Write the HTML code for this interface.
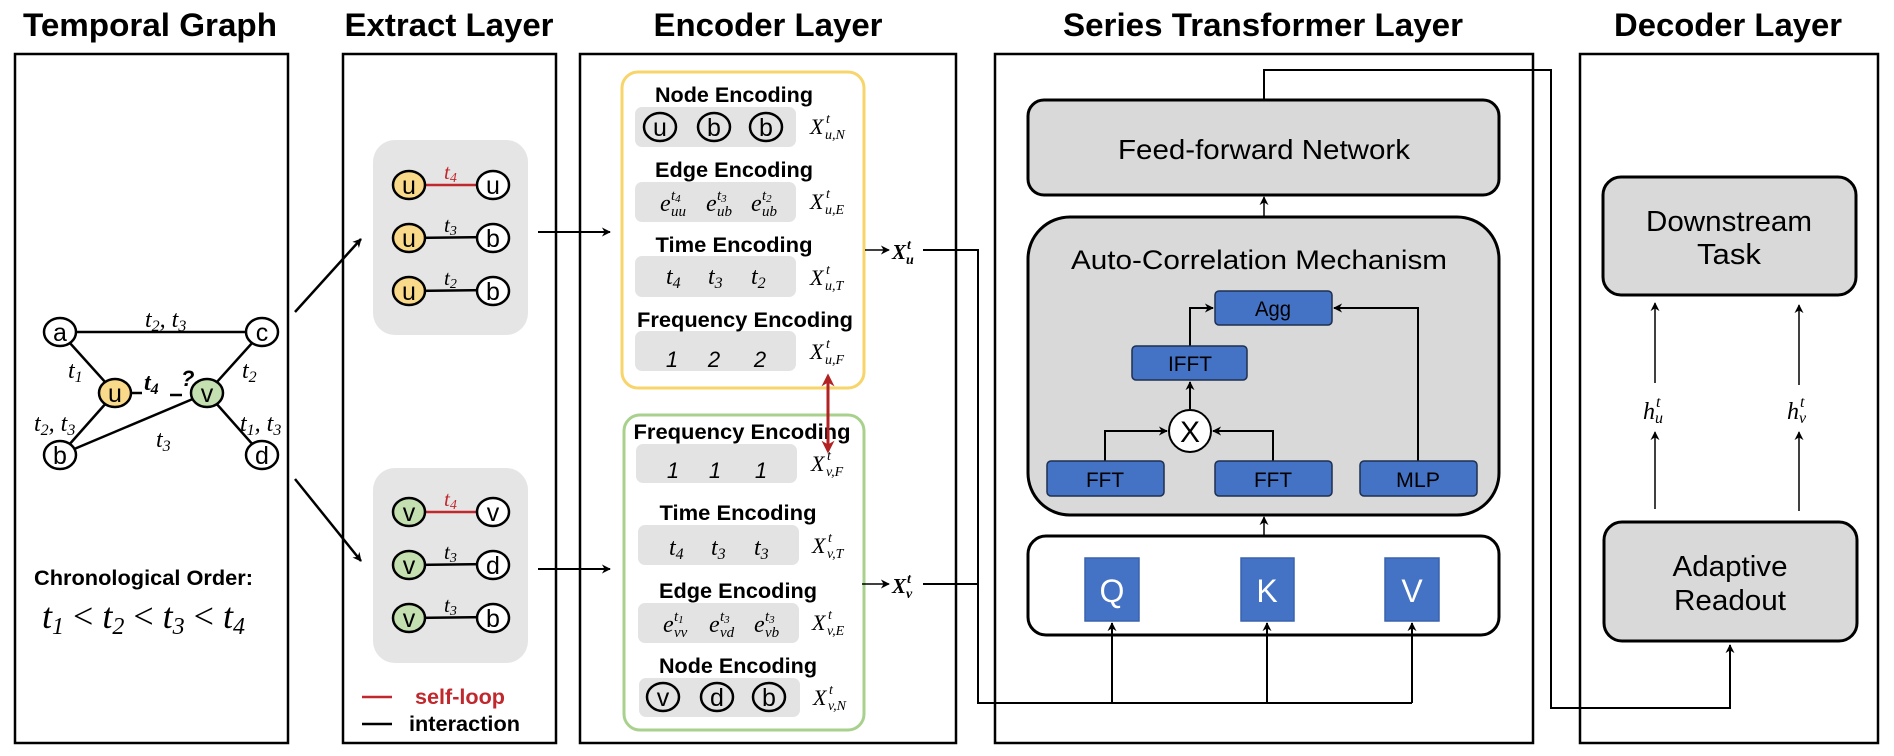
<!DOCTYPE html>
<html><head><meta charset="utf-8"><style>
html,body{margin:0;padding:0;background:#fff}
svg{display:block}
.t{font-family:"Liberation Sans",sans-serif;font-weight:bold}
.m{font-family:"Liberation Serif",serif;font-style:italic}
.n{font-family:"Liberation Sans",sans-serif}
</style></head><body>
<svg width="1894" height="756" viewBox="0 0 1894 756" xmlns="http://www.w3.org/2000/svg">
<defs>
<marker id="ah" viewBox="0 0 10 10" refX="9" refY="5" markerWidth="9" markerHeight="9" markerUnits="userSpaceOnUse" orient="auto"><path d="M0,0 L10,5 L0,10 L3,5 z" fill="#000"/></marker>
<marker id="ar" viewBox="0 0 10 10" refX="8" refY="5" markerWidth="13" markerHeight="13" markerUnits="userSpaceOnUse" orient="auto-start-reverse"><path d="M0,0 L10,5 L0,10 L3,5 z" fill="#b22222"/></marker>
</defs>

<!-- Titles -->
<g class="t" font-size="32" text-anchor="middle">
<text x="150" y="36" textLength="254" lengthAdjust="spacingAndGlyphs">Temporal Graph</text>
<text x="449" y="36" textLength="209" lengthAdjust="spacingAndGlyphs">Extract Layer</text>
<text x="768" y="36" textLength="229" lengthAdjust="spacingAndGlyphs">Encoder Layer</text>
<text x="1263" y="36" textLength="400" lengthAdjust="spacingAndGlyphs">Series Transformer Layer</text>
<text x="1728" y="36" textLength="228" lengthAdjust="spacingAndGlyphs">Decoder Layer</text>
</g>

<!-- Outer boxes -->
<g fill="none" stroke="#000" stroke-width="2.5">
<rect x="15" y="54" width="273" height="689"/>
<rect x="343" y="54" width="213" height="689"/>
<rect x="580" y="54" width="376" height="689"/>
<rect x="995" y="54" width="538" height="689"/>
<rect x="1580" y="54" width="298" height="689"/>
</g>

<!-- Temporal graph -->
<g stroke="#000" stroke-width="2.5" fill="none">
<line x1="60" y1="332" x2="262" y2="332"/>
<line x1="60" y1="332" x2="115" y2="393"/>
<line x1="262" y1="332" x2="207" y2="393"/>
<line x1="115" y1="393" x2="60" y2="455"/>
<line x1="207" y1="393" x2="262" y2="455"/>
<line x1="60" y1="455" x2="207" y2="393"/>
<line x1="131" y1="393" x2="142" y2="393"/>
<line x1="170" y1="395" x2="182" y2="395"/>
</g>
<g stroke="#000" stroke-width="2.5">
<ellipse cx="60" cy="332" rx="16" ry="14" fill="#fff"/>
<ellipse cx="262" cy="332" rx="16" ry="14" fill="#fff"/>
<ellipse cx="60" cy="455" rx="16" ry="14" fill="#fff"/>
<ellipse cx="262" cy="455" rx="16" ry="14" fill="#fff"/>
<ellipse cx="115" cy="393" rx="16" ry="14" fill="#f9d98a"/>
<ellipse cx="207" cy="393" rx="16" ry="14" fill="#c4dfb0"/>
</g>
<g class="n" font-size="25" text-anchor="middle">
<text x="60" y="341">a</text><text x="262" y="341">c</text><text x="60" y="464">b</text><text x="262" y="464">d</text><text x="115" y="402">u</text><text x="207" y="402">v</text>
</g>
<g class="m" font-size="24">
<text x="145" y="327">t<tspan font-size="16" dy="4">2</tspan><tspan dy="-4">, t</tspan><tspan font-size="16" dy="4">3</tspan></text>
<text x="68" y="378">t<tspan font-size="16" dy="4">1</tspan></text>
<text x="242" y="378">t<tspan font-size="16" dy="4">2</tspan></text>
<text x="34" y="431">t<tspan font-size="16" dy="4">2</tspan><tspan dy="-4">, t</tspan><tspan font-size="16" dy="4">3</tspan></text>
<text x="240" y="431">t<tspan font-size="16" dy="4">1</tspan><tspan dy="-4">, t</tspan><tspan font-size="16" dy="4">3</tspan></text>
<text x="156" y="447">t<tspan font-size="16" dy="4">3</tspan></text>
<text x="144" y="390" font-weight="bold">t<tspan font-size="16" dy="4">4</tspan></text>
</g>
<text class="t" x="181" y="386" font-size="22" font-style="italic">?</text>
<g stroke="#000" stroke-width="2.5" marker-end="url(#ah)">
<line x1="295" y1="312" x2="361" y2="239"/>
<line x1="295" y1="479" x2="361" y2="561"/>
</g>
<text class="t" x="34" y="585" font-size="21" textLength="219" lengthAdjust="spacingAndGlyphs">Chronological Order:</text>
<text class="m" x="42" y="628" font-size="36">t<tspan font-size="24" dy="6">1</tspan><tspan dy="-6" font-style="normal"> &lt; </tspan>t<tspan font-size="24" dy="6">2</tspan><tspan dy="-6" font-style="normal"> &lt; </tspan>t<tspan font-size="24" dy="6">3</tspan><tspan dy="-6" font-style="normal"> &lt; </tspan>t<tspan font-size="24" dy="6">4</tspan></text>

<!-- Extract layer -->
<rect x="373" y="140" width="155" height="195" rx="22" fill="#e5e5e5"/>
<rect x="373" y="468" width="155" height="195" rx="22" fill="#e5e5e5"/>
<g stroke-width="2.5">
<line x1="409" y1="185" x2="493" y2="185" stroke="#c0282d"/>
<line x1="409" y1="238" x2="493" y2="237" stroke="#000"/>
<line x1="409" y1="291" x2="493" y2="290" stroke="#000"/>
<line x1="409" y1="512" x2="493" y2="512" stroke="#c0282d"/>
<line x1="409" y1="565" x2="493" y2="564" stroke="#000"/>
<line x1="409" y1="618" x2="493" y2="617" stroke="#000"/>
</g>
<g stroke="#000" stroke-width="2.5">
<ellipse cx="409" cy="185" rx="16" ry="14" fill="#f9d98a"/><ellipse cx="493" cy="185" rx="16" ry="14" fill="#fff"/>
<ellipse cx="409" cy="238" rx="16" ry="14" fill="#f9d98a"/><ellipse cx="493" cy="238" rx="16" ry="14" fill="#fff"/>
<ellipse cx="409" cy="291" rx="16" ry="14" fill="#f9d98a"/><ellipse cx="493" cy="291" rx="16" ry="14" fill="#fff"/>
<ellipse cx="409" cy="512" rx="16" ry="14" fill="#c4dfb0"/><ellipse cx="493" cy="512" rx="16" ry="14" fill="#fff"/>
<ellipse cx="409" cy="565" rx="16" ry="14" fill="#c4dfb0"/><ellipse cx="493" cy="565" rx="16" ry="14" fill="#fff"/>
<ellipse cx="409" cy="618" rx="16" ry="14" fill="#c4dfb0"/><ellipse cx="493" cy="618" rx="16" ry="14" fill="#fff"/>
</g>
<g class="n" font-size="25" text-anchor="middle">
<text x="409" y="194">u</text><text x="493" y="194">u</text>
<text x="409" y="247">u</text><text x="493" y="247">b</text>
<text x="409" y="300">u</text><text x="493" y="300">b</text>
<text x="409" y="521">v</text><text x="493" y="521">v</text>
<text x="409" y="574">v</text><text x="493" y="574">d</text>
<text x="409" y="627">v</text><text x="493" y="627">b</text>
</g>
<g class="m" font-size="21">
<text x="444" y="179" fill="#c0282d">t<tspan font-size="14" dy="3">4</tspan></text>
<text x="444" y="232">t<tspan font-size="14" dy="3">3</tspan></text>
<text x="444" y="285">t<tspan font-size="14" dy="3">2</tspan></text>
<text x="444" y="506" fill="#c0282d">t<tspan font-size="14" dy="3">4</tspan></text>
<text x="444" y="559">t<tspan font-size="14" dy="3">3</tspan></text>
<text x="444" y="612">t<tspan font-size="14" dy="3">3</tspan></text>
</g>
<g stroke="#000" stroke-width="2" marker-end="url(#ah)">
<line x1="538" y1="232" x2="610" y2="232"/>
<line x1="538" y1="569" x2="610" y2="569"/>
</g>
<line x1="362" y1="697" x2="392" y2="697" stroke="#c0282d" stroke-width="2.5"/>
<line x1="362" y1="724" x2="392" y2="724" stroke="#000" stroke-width="2.5"/>
<text class="t" x="415" y="704" font-size="21" fill="#c0282d" textLength="90" lengthAdjust="spacingAndGlyphs">self-loop</text>
<text class="t" x="409" y="731" font-size="21" textLength="111" lengthAdjust="spacingAndGlyphs">interaction</text>

<!-- Encoder -->
<rect x="622" y="72" width="242" height="316" rx="16" fill="none" stroke="#f7d56a" stroke-width="3"/>
<rect x="624" y="415" width="240" height="315" rx="16" fill="none" stroke="#a9d18e" stroke-width="3"/>
<g fill="#e3e3e3">
<rect x="635" y="107" width="161" height="40" rx="7"/>
<rect x="635" y="182" width="161" height="40" rx="7"/>
<rect x="635" y="256" width="161" height="41" rx="7"/>
<rect x="635" y="331" width="161" height="40" rx="7"/>
<rect x="636" y="444" width="161" height="39" rx="7"/>
<rect x="638" y="525" width="161" height="40" rx="7"/>
<rect x="638" y="603" width="161" height="40" rx="7"/>
<rect x="639" y="678" width="161" height="39" rx="7"/>
</g>
<g class="t" font-size="21" text-anchor="middle">
<text x="734" y="102" textLength="158" lengthAdjust="spacingAndGlyphs">Node Encoding</text>
<text x="734" y="177" textLength="158" lengthAdjust="spacingAndGlyphs">Edge Encoding</text>
<text x="734" y="252" textLength="157" lengthAdjust="spacingAndGlyphs">Time Encoding</text>
<text x="745" y="327" textLength="216" lengthAdjust="spacingAndGlyphs">Frequency Encoding</text>
<text x="742" y="439" textLength="217" lengthAdjust="spacingAndGlyphs">Frequency Encoding</text>
<text x="738" y="520" textLength="157" lengthAdjust="spacingAndGlyphs">Time Encoding</text>
<text x="738" y="598" textLength="158" lengthAdjust="spacingAndGlyphs">Edge Encoding</text>
<text x="738" y="673" textLength="158" lengthAdjust="spacingAndGlyphs">Node Encoding</text>
</g>
<g stroke="#000" stroke-width="2.5" fill="none">
<ellipse cx="660" cy="127" rx="16" ry="14"/><ellipse cx="714" cy="127" rx="16" ry="14"/><ellipse cx="766" cy="127" rx="16" ry="14"/>
<ellipse cx="663" cy="697" rx="16" ry="14"/><ellipse cx="717" cy="697" rx="16" ry="14"/><ellipse cx="769" cy="697" rx="16" ry="14"/>
</g>
<g class="n" font-size="25" text-anchor="middle">
<text x="660" y="136">u</text><text x="714" y="136">b</text><text x="766" y="136">b</text>
<text x="663" y="706">v</text><text x="717" y="706">d</text><text x="769" y="706">b</text>
</g>
<!-- edge e labels -->
<g class="m" font-size="24">
<text x="660" y="211">e</text><text x="706" y="211">e</text><text x="751" y="211">e</text>
<text x="663" y="632">e</text><text x="709" y="632">e</text><text x="754" y="632">e</text>
</g>
<g class="m" font-size="15">
<text x="671" y="200">t<tspan font-size="11" dy="2">4</tspan></text><text x="671" y="216">uu</text>
<text x="717" y="200">t<tspan font-size="11" dy="2">3</tspan></text><text x="717" y="216">ub</text>
<text x="762" y="200">t<tspan font-size="11" dy="2">2</tspan></text><text x="762" y="216">ub</text>
<text x="674" y="621">t<tspan font-size="11" dy="2">1</tspan></text><text x="674" y="637">vv</text>
<text x="720" y="621">t<tspan font-size="11" dy="2">3</tspan></text><text x="720" y="637">vd</text>
<text x="765" y="621">t<tspan font-size="11" dy="2">3</tspan></text><text x="765" y="637">vb</text>
</g>
<g class="m" font-size="24">
<text x="666" y="284">t<tspan font-size="16" dy="4">4</tspan></text>
<text x="708" y="284">t<tspan font-size="16" dy="4">3</tspan></text>
<text x="751" y="284">t<tspan font-size="16" dy="4">2</tspan></text>
<text x="669" y="555">t<tspan font-size="16" dy="4">4</tspan></text>
<text x="711" y="555">t<tspan font-size="16" dy="4">3</tspan></text>
<text x="754" y="555">t<tspan font-size="16" dy="4">3</tspan></text>
</g>
<g class="n" font-size="22" font-style="italic" text-anchor="middle">
<text x="672" y="367">1</text><text x="714" y="367">2</text><text x="760" y="367">2</text>
<text x="673" y="478">1</text><text x="715" y="478">1</text><text x="761" y="478">1</text>
</g>
<!-- X labels -->
<g class="m" font-size="22">
<text x="810" y="134">X</text><text x="810" y="209">X</text><text x="810" y="285">X</text><text x="810" y="359">X</text>
<text x="811" y="471">X</text><text x="812" y="553">X</text><text x="812" y="630">X</text><text x="813" y="705">X</text>
</g>
<g class="m" font-size="14">
<text x="826" y="123">t</text><text x="825" y="139">u,N</text>
<text x="826" y="198">t</text><text x="825" y="214">u,E</text>
<text x="826" y="274">t</text><text x="825" y="290">u,T</text>
<text x="826" y="348">t</text><text x="825" y="364">u,F</text>
<text x="827" y="460">t</text><text x="826" y="476">v,F</text>
<text x="828" y="542">t</text><text x="827" y="558">v,T</text>
<text x="828" y="619">t</text><text x="827" y="635">v,E</text>
<text x="829" y="694">t</text><text x="828" y="710">v,N</text>
</g>
<line x1="828" y1="376" x2="828" y2="451" stroke="#b22222" stroke-width="3" marker-end="url(#ar)" marker-start="url(#ar)"/>
<g stroke="#000" stroke-width="1.5" marker-end="url(#ah)">
<line x1="865" y1="250" x2="889" y2="250"/>
<line x1="862" y1="584" x2="889" y2="584"/>
</g>
<g class="m" font-size="21" font-weight="bold">
<text x="892" y="259">X</text><text x="892" y="593">X</text>
</g>
<g class="m" font-size="14" font-weight="bold">
<text x="907" y="249">t</text><text x="906" y="264">u</text>
<text x="907" y="583">t</text><text x="906" y="598">v</text>
</g>
<g stroke="#000" stroke-width="2" fill="none">
<polyline points="923,250 978,250 978,703 1412,703"/>
<polyline points="923,584 978,584"/>
</g>

<!-- Series Transformer -->
<polyline points="1264,100 1264,70 1551,70 1551,708 1730,708 1730,645" fill="none" stroke="#000" stroke-width="2" marker-end="url(#ah)"/>
<rect x="1028" y="100" width="471" height="95" rx="16" fill="#d9d9d9" stroke="#000" stroke-width="3"/>
<text class="n" x="1264" y="159" font-size="28" text-anchor="middle" textLength="292" lengthAdjust="spacingAndGlyphs">Feed-forward Network</text>
<line x1="1264" y1="217" x2="1264" y2="197" stroke="#000" stroke-width="1.5" marker-end="url(#ah)"/>
<rect x="1028" y="217" width="471" height="298" rx="42" fill="#d9d9d9" stroke="#000" stroke-width="3"/>
<text class="n" x="1259" y="269" font-size="27" text-anchor="middle" textLength="376" lengthAdjust="spacingAndGlyphs">Auto-Correlation Mechanism</text>
<g stroke="#000" stroke-width="2" fill="none">
<polyline points="1105,461 1105,431 1167,431" marker-end="url(#ah)"/>
<polyline points="1273,461 1273,431 1213,431" marker-end="url(#ah)"/>
<line x1="1190" y1="409" x2="1190" y2="382" marker-end="url(#ah)"/>
<polyline points="1190,346 1190,308 1213,308" marker-end="url(#ah)"/>
<polyline points="1418,461 1418,308 1334,308" marker-end="url(#ah)"/>
</g>
<g fill="#4472c4" stroke="#1f2f4f" stroke-width="1.5">
<rect x="1215" y="291" width="117" height="34" rx="4"/>
<rect x="1132" y="346" width="115" height="34" rx="4"/>
<rect x="1047" y="461" width="117" height="35" rx="4"/>
<rect x="1215" y="461" width="117" height="35" rx="4"/>
<rect x="1360" y="461" width="117" height="35" rx="4"/>
</g>
<circle cx="1190" cy="431" r="21" fill="#fff" stroke="#000" stroke-width="2"/>
<text class="n" x="1190" y="442" font-size="30" text-anchor="middle">X</text>
<g class="n" font-size="21" text-anchor="middle" fill="#000">
<text x="1273" y="316" textLength="36" lengthAdjust="spacingAndGlyphs">Agg</text>
<text x="1190" y="371" textLength="44" lengthAdjust="spacingAndGlyphs">IFFT</text>
<text x="1105" y="487" textLength="38" lengthAdjust="spacingAndGlyphs">FFT</text>
<text x="1273" y="487" textLength="38" lengthAdjust="spacingAndGlyphs">FFT</text>
<text x="1418" y="487" textLength="44" lengthAdjust="spacingAndGlyphs">MLP</text>
</g>
<line x1="1264" y1="536" x2="1264" y2="517" stroke="#000" stroke-width="1.5" marker-end="url(#ah)"/>
<rect x="1028" y="536" width="471" height="99" rx="18" fill="#fff" stroke="#000" stroke-width="3"/>
<g fill="#4472c4" stroke="#3a63ad" stroke-width="1.5">
<rect x="1085" y="558" width="54" height="63"/>
<rect x="1241" y="558" width="53" height="63"/>
<rect x="1385" y="558" width="54" height="63"/>
</g>
<g class="n" font-size="32" fill="#fff" text-anchor="middle">
<text x="1112" y="602">Q</text><text x="1267" y="602">K</text><text x="1412" y="602">V</text>
</g>
<g stroke="#000" stroke-width="2" marker-end="url(#ah)">
<line x1="1112" y1="703" x2="1112" y2="623"/>
<line x1="1267" y1="703" x2="1267" y2="623"/>
<line x1="1412" y1="703" x2="1412" y2="623"/>
</g>

<!-- Decoder -->
<rect x="1603" y="177" width="253" height="118" rx="18" fill="#d9d9d9" stroke="#000" stroke-width="3"/>
<text class="n" x="1729" y="231" font-size="29" text-anchor="middle" textLength="166" lengthAdjust="spacingAndGlyphs">Downstream</text>
<text class="n" x="1729" y="264" font-size="29" text-anchor="middle" textLength="64" lengthAdjust="spacingAndGlyphs">Task</text>
<rect x="1604" y="522" width="253" height="119" rx="18" fill="#d9d9d9" stroke="#000" stroke-width="3"/>
<text class="n" x="1730" y="576" font-size="29" text-anchor="middle" textLength="115" lengthAdjust="spacingAndGlyphs">Adaptive</text>
<text class="n" x="1730" y="610" font-size="29" text-anchor="middle" textLength="112" lengthAdjust="spacingAndGlyphs">Readout</text>
<g stroke="#000" stroke-width="1.5" marker-end="url(#ah)">
<line x1="1655" y1="509" x2="1655" y2="432"/>
<line x1="1655" y1="383" x2="1655" y2="303"/>
<line x1="1799" y1="511" x2="1799" y2="432"/>
<line x1="1799" y1="385" x2="1799" y2="305"/>
</g>
<g class="m" font-size="24">
<text x="1643" y="419">h</text><text x="1787" y="419">h</text>
</g>
<g class="m" font-size="16">
<text x="1656" y="407">t</text><text x="1655" y="423">u</text>
<text x="1800" y="407">t</text><text x="1799" y="423">v</text>
</g>
</svg>
</body></html>
